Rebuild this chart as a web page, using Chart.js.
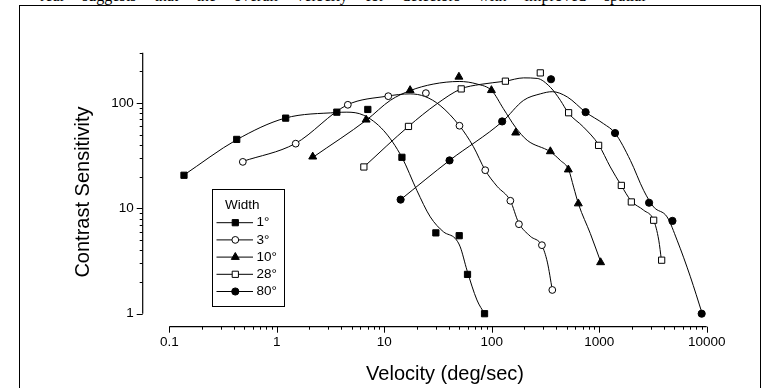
<!DOCTYPE html>
<html>
<head>
<meta charset="utf-8">
<script src="https://cdn.jsdelivr.net/npm/chart.js@4/dist/chart.umd.min.js"></script>
<style>
  html, body { margin: 0; padding: 0; background: #fff; overflow: hidden; }
  body { width: 766px; height: 388px; position: relative; }
  #topline { position: absolute; left: 40px; top: -13px; font: 16px "Liberation Serif", serif; color: #000; white-space: nowrap; word-spacing: 14px; }
  #frame { position: absolute; left: 19px; top: 5px; width: 740px; height: 400px; border: 1.5px solid #000; }
  #c { position: absolute; left: 0; top: 0; }
</style>
</head>
<body>
<div id="topline">real     suggests that the overall velocity for detectors with improved spatial</div>
<div id="frame"></div>
<canvas id="c" width="766" height="388"></canvas>
<script>
// values (velocity deg/sec, contrast sensitivity)
const widths = ['1°', '3°', '10°', '28°', '80°'];

const vel1 = [0.137, 0.424, 1.21, 3.62, 7.03, 14.6, 30.2, 49.8, 59.5, 85.7];
const cs1 = [20.6, 45.1, 71.8, 81.8, 86.8, 30.5, 5.85, 5.5, 2.36, 1.0];
const vel3 = [0.483, 1.50, 4.58, 10.9, 24.4, 50.1, 87, 149, 179, 293, 366];
const cs3 = [27.6, 41.1, 96.1, 116, 124, 60.8, 23.0, 11.8, 7.07, 4.47, 1.68];
const vel10 = [2.16, 6.78, 17.4, 49.5, 99.3, 167, 351, 516, 639, 1030];
const cs10 = [30.9, 69.3, 132, 177, 132, 52.2, 34.7, 23.3, 11.1, 3.07];
const vel28 = [6.46, 16.8, 52.0, 134, 283, 519, 987, 1606, 1990, 3210, 3810];
const cs28 = [24.7, 59.9, 136, 161, 193, 80.8, 39.6, 16.5, 11.5, 7.71, 3.22];
const vel80 = [14.2, 40.5, 125, 356, 747, 1403, 2910, 4800, 8980];
const cs80 = [12.1, 28.5, 66.8, 168, 81.8, 51.8, 11.3, 7.6, 1.0];

// fitted curves
const fitVel1 = [0.135, 0.424, 1.195, 3.62, 4.49, 6.40, 9.84, 14.6, 20.1, 26.8, 35.6, 45.7, 50.9, 58.8, 72.8, 85.7];
const fitCs1 = [20.5, 44.8, 71.8, 81.2, 81.8, 76.6, 54.9, 30.5, 14.8, 8.30, 5.98, 5.18, 4.31, 2.59, 1.35, 1.0];
const fitVel3 = [0.483, 1.48, 4.51, 10.6, 17.4, 24.0, 33.1, 50.1, 67.3, 86.9, 112, 149, 178, 228, 293, 329, 366];
const fitCs3 = [27.9, 41.1, 95.7, 116, 122, 115, 94.7, 60.8, 38.7, 23.0, 16.2, 11.8, 7.3, 5.44, 4.43, 3.09, 1.68];
const fitVel10 = [2.19, 6.89, 11.4, 17.4, 28.5, 49.8, 73.3, 100, 128, 166, 214, 351, 435, 519, 578, 643, 826, 1040];
const fitCs10 = [30.7, 69.3, 106, 131, 151, 160, 151, 131, 88.7, 59.0, 44.2, 34.4, 28.5, 23.3, 15.9, 10.9, 5.77, 3.04];
const fitVel28 = [6.46, 16.8, 30.9, 51.7, 78.2, 134, 198, 265, 351, 435, 516, 715, 987, 1268, 1596, 1990, 2590, 3210, 3580, 3790];
const fitCs28 = [24.7, 59.9, 98.2, 136, 150, 161, 173, 171, 141, 106, 80.4, 59.0, 40.2, 24.7, 16.6, 11.7, 9.6, 7.71, 4.99, 3.23];
const fitVel80 = [14.2, 40.5, 126, 198, 283, 366, 505, 747, 1099, 1403, 1950, 2590, 3210, 4280, 5300, 7050, 9060];
const fitCs80 = [12.1, 28.5, 66.8, 106, 122, 128, 114, 81.8, 63.5, 51.8, 28.5, 14.8, 10.3, 8.29, 4.99, 2.24, 1.01];

const xTicks = [0.1, 1, 10, 100, 1000, 10000];
const xTickLabels = ['0.1', '1', '10', '100', '1000', '10000'];
const yTicks = [1, 10, 100];
const yTickLabels = ['1', '10', '100'];

const pts = (xs, ys) => xs.map((x, i) => ({ x: x, y: ys[i] }));

const markers = [
  { style: 'rect', radius: 4.4, fill: '#000' },
  { style: 'circle', radius: 3.4, fill: '#fff' },
  { style: 'triangle', radius: 4.6, fill: '#000' },
  { style: 'rect', radius: 4.4, fill: '#fff' },
  { style: 'circle', radius: 3.6, fill: '#000' }
];
const series = [[vel1, cs1], [vel3, cs3], [vel10, cs10], [vel28, cs28], [vel80, cs80]];
const fits = [[fitVel1, fitCs1], [fitVel3, fitCs3], [fitVel10, fitCs10], [fitVel28, fitCs28], [fitVel80, fitCs80]];

const datasets = [];
series.forEach((s, i) => {
  datasets.push({
    label: widths[i],
    data: pts(s[0], s[1]),
    showLine: false,
    pointStyle: markers[i].style,
    pointRadius: markers[i].radius,
    pointBackgroundColor: markers[i].fill,
    pointBorderColor: '#000',
    pointBorderWidth: 1,
    clip: false,
    order: 0
  });
});
fits.forEach((f, i) => {
  datasets.push({
    label: widths[i] + ' fit',
    data: pts(f[0], f[1]),
    showLine: true,
    borderColor: '#000',
    borderWidth: 1,
    pointRadius: 0,
    cubicInterpolationMode: 'monotone',
    clip: false,
    order: 1
  });
});

const FONT = '"Liberation Sans", Arial, sans-serif';

const axesPlugin = {
  id: 'originAxes',
  afterDraw(chart) {
    const ctx = chart.ctx;
    const xs = chart.scales.x, ys = chart.scales.y;
    const area = chart.chartArea;
    const axisX = area.left - 26.6;
    const axisY = area.bottom + 13;
    ctx.save();
    ctx.strokeStyle = '#000';
    ctx.fillStyle = '#000';
    ctx.lineWidth = 1.2;
    // y axis
    ctx.beginPath();
    ctx.moveTo(axisX, ys.getPixelForValue(1));
    ctx.lineTo(axisX, ys.getPixelForValue(300));
    ctx.stroke();
    // x axis
    ctx.beginPath();
    ctx.moveTo(xs.getPixelForValue(0.1), axisY);
    ctx.lineTo(xs.getPixelForValue(10000), axisY);
    ctx.stroke();

    ctx.lineWidth = 1;
    for (let d = 1; d <= 100; d *= 10) {
      for (let m = 1; m <= 9; m++) {
        const v = d * m;
        if (v > 300) break;
        const py = Math.round(ys.getPixelForValue(v)) + 0.5;
        const len = m === 1 ? 6 : 3;
        ctx.beginPath();
        ctx.moveTo(axisX, py);
        ctx.lineTo(axisX - len, py);
        ctx.stroke();
      }
    }
    for (let d = 0.1; d <= 10000; d *= 10) {
      for (let m = 1; m <= 9; m++) {
        const v = d * m;
        if (v > 10001) break;
        const px = Math.round(xs.getPixelForValue(v)) + 0.5;
        const len = m === 1 ? 6 : 3;
        ctx.beginPath();
        ctx.moveTo(px, axisY);
        ctx.lineTo(px, axisY + len);
        ctx.stroke();
      }
    }

    ctx.font = '13.5px ' + FONT;
    ctx.textAlign = 'right';
    ctx.textBaseline = 'middle';
    yTicks.forEach((v, i) => ctx.fillText(yTickLabels[i], axisX - 9, ys.getPixelForValue(v)));
    ctx.textAlign = 'center';
    ctx.textBaseline = 'top';
    xTicks.forEach((v, i) => ctx.fillText(xTickLabels[i], xs.getPixelForValue(v), axisY + 9));

    ctx.font = '20px ' + FONT;
    ctx.textBaseline = 'middle';
    ctx.fillText('Velocity (deg/sec)', 445, 374);
    ctx.translate(83, 192);
    ctx.rotate(-Math.PI / 2);
    ctx.fillText('Contrast Sensitivity', 0, 0);
    ctx.restore();

    // legend box
    ctx.save();
    ctx.strokeStyle = '#000';
    ctx.lineWidth = 1;
    ctx.strokeRect(212.5, 189.5, 72, 117);
    ctx.fillStyle = '#000';
    ctx.font = '13.5px ' + FONT;
    ctx.textAlign = 'left';
    ctx.textBaseline = 'middle';
    ctx.fillText('Width', 225, 205);
    widths.forEach((w, i) => {
      const y = 222.7 + i * 17.2;
      ctx.beginPath();
      ctx.moveTo(216.5, y);
      ctx.lineTo(253, y);
      ctx.stroke();
      ctx.fillStyle = markers[i].fill;
      Chart.helpers.drawPoint(ctx, { pointStyle: markers[i].style, radius: markers[i].radius, rotation: 0, borderWidth: 1 }, 235.3, y);
      ctx.fillStyle = '#000';
      ctx.fillText(w, 256.5, y);
    });
    ctx.restore();
  }
};

new Chart(document.getElementById('c').getContext('2d'), {
  type: 'scatter',
  data: { datasets: datasets },
  options: {
    responsive: false,
    animation: false,
    events: [],
    layout: { padding: { left: 169.3, right: 59.3, top: 52.7, bottom: 74.3 } },
    plugins: { legend: { display: false }, tooltip: { enabled: false } },
    scales: {
      x: { type: 'logarithmic', min: 0.1, max: 10000, display: false },
      y: { type: 'logarithmic', min: 1, max: 300, display: false }
    }
  },
  plugins: [axesPlugin]
});
</script>
</body>
</html>
